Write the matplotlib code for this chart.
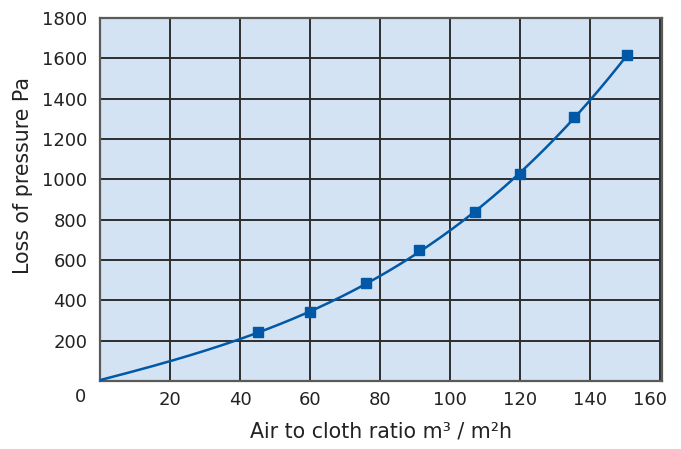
import numpy as np
import matplotlib.pyplot as plt
from matplotlib.transforms import ScaledTranslation

# measured points (squares)
ratio = [45, 60, 76, 91, 107, 120, 135.5, 150.5]
loss = [241, 340, 487, 648, 836, 1025, 1307, 1616]

# points (start section has no markers)
curve_x = [0, 20, 40, 45, 60, 76, 91, 107, 120, 135.5, 150.5]
curve_y = [5, 100, 203, 241, 340, 487, 648, 836, 1025, 1307, 1616]

xticks = [20, 40, 60, 80, 100, 120, 140, 160]
yticks = [200, 400, 600, 800, 1000, 1200, 1400, 1600, 1800]

BLUE = '#0058a6'
BG = '#d4e3f3'
TXT = '#222222'

plt.rcParams['font.family'] = ['DejaVu Sans']

fig = plt.figure(figsize=(6.81, 4.49), dpi=100)
ax = fig.add_axes([0.1468, 0.1514, 0.8252, 0.8086])
ax.set_facecolor(BG)

# smooth line through the read curve points
coef = np.polyfit(curve_x, curve_y, 3)
xs = np.linspace(curve_x[0], curve_x[-1], 300)
ax.plot(xs, np.polyval(coef, xs), color=BLUE, lw=1.8, zorder=3)
ax.plot(ratio, loss, 's', color=BLUE, ms=6.5, zorder=4)

ax.set_xlim(0, 160.5)
ax.set_ylim(0, 1800)
ax.set_xticks(xticks)
ax.set_yticks(yticks)
ax.grid(True, color='#2e2e2e', lw=1.4, zorder=1)
ax.set_axisbelow(True)
for s in ax.spines.values():
    s.set_color('#5a5a5a')
    s.set_linewidth(1.6)

ax.tick_params(length=0, labelsize=13, colors=TXT, pad=7)
ax.tick_params(axis='y', pad=9)
last = ax.get_xticklabels()[-1]
last.set_transform(last.get_transform() + ScaledTranslation(-0.1, 0, fig.dpi_scale_trans))
ax.text(-4.0, -80, '0', ha='right', va='center', fontsize=13, color=TXT)

ax.set_xlabel('Air to cloth ratio m³ / m²h', fontsize=14.8, color=TXT, labelpad=9)
ax.set_ylabel('Loss of pressure Pa', fontsize=14.8, color=TXT)
ax.yaxis.set_label_coords(-0.12, 0.565)

fig.savefig('out.png', dpi=100)
